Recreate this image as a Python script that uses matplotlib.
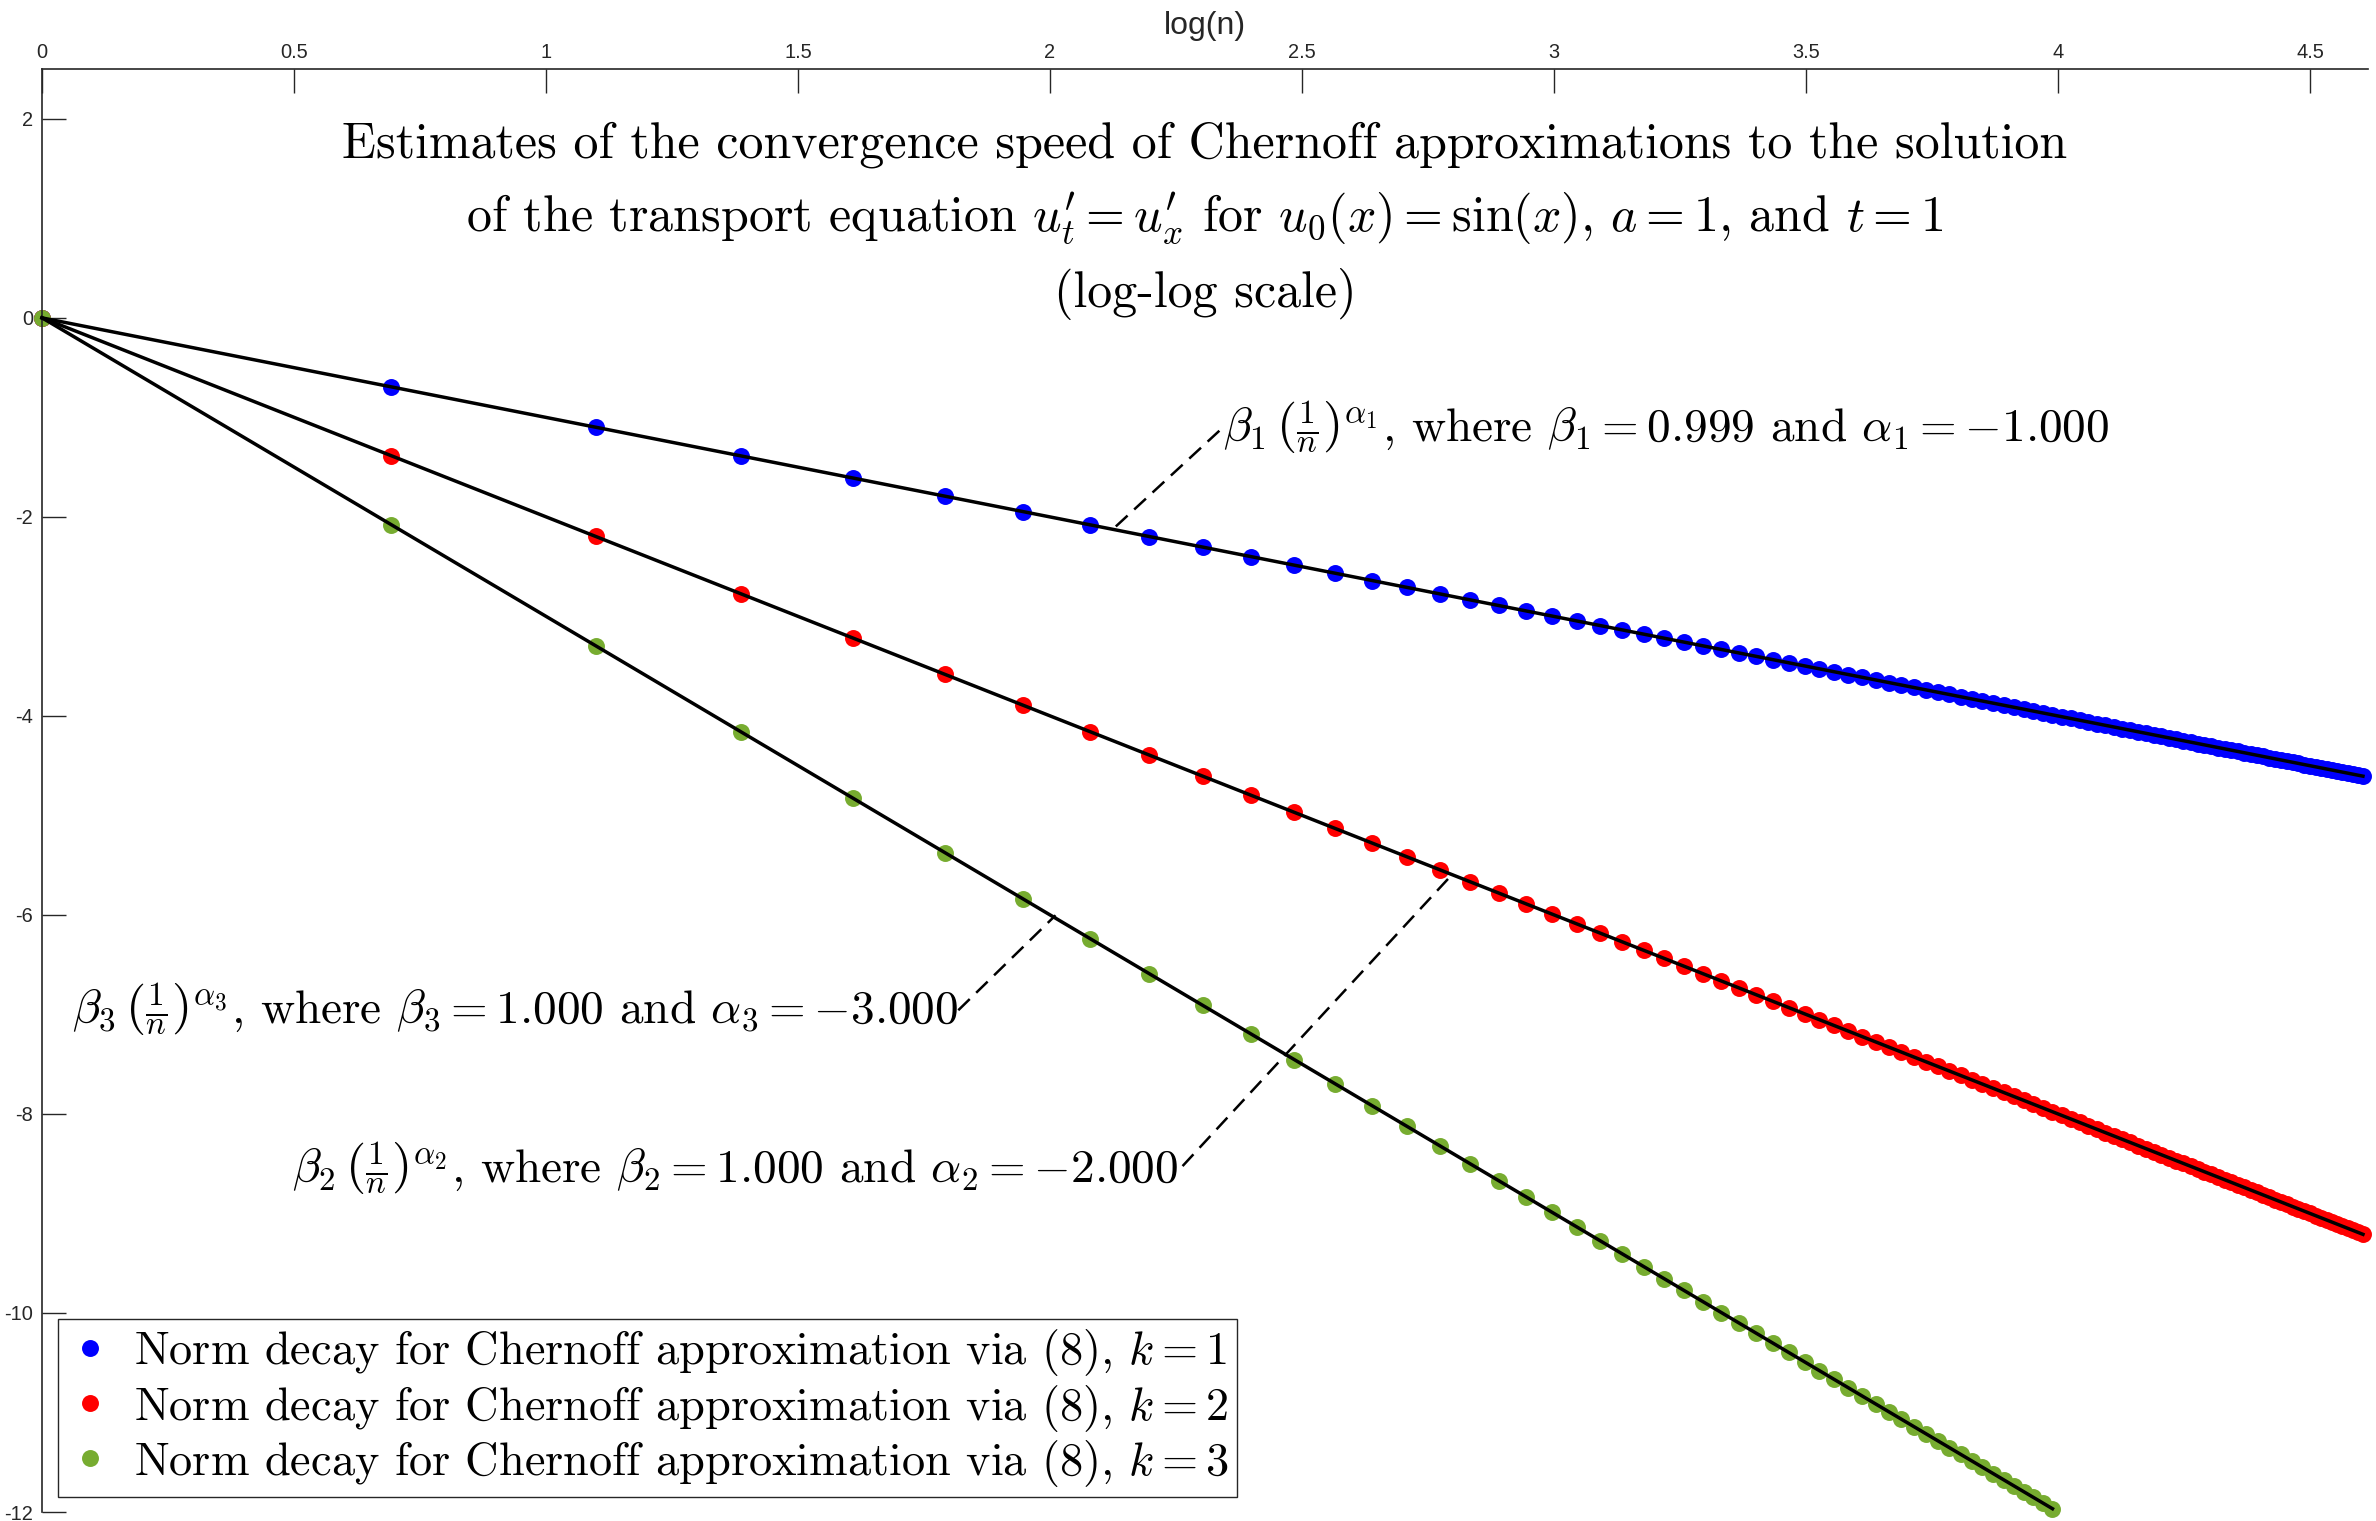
import matplotlib
matplotlib.use("Agg")
import matplotlib.pyplot as plt
import numpy as np

# ---------------- data ----------------
LOG_N = [0.000, 0.693, 1.099, 1.386, 1.609, 1.792, 1.946, 2.079, 2.197, 2.303,
         2.398, 2.485, 2.565, 2.639, 2.708, 2.773, 2.833, 2.890, 2.944, 2.996,
         3.045, 3.091, 3.135, 3.178, 3.219, 3.258, 3.296, 3.332, 3.367, 3.401,
         3.434, 3.466, 3.497, 3.526, 3.555, 3.584, 3.611, 3.638, 3.664, 3.689,
         3.714, 3.738, 3.761, 3.784, 3.807, 3.829, 3.850, 3.871, 3.892, 3.912,
         3.932, 3.951, 3.970, 3.989, 4.007, 4.025, 4.043, 4.060, 4.078, 4.094,
         4.111, 4.127, 4.143, 4.159, 4.174, 4.190, 4.205, 4.220, 4.234, 4.248,
         4.263, 4.277, 4.290, 4.304, 4.317, 4.331, 4.344, 4.357, 4.369, 4.382,
         4.394, 4.407, 4.419, 4.431, 4.443, 4.454, 4.466, 4.477, 4.489, 4.500,
         4.511, 4.522, 4.533, 4.543, 4.554, 4.564, 4.575, 4.585, 4.595, 4.605]

LOG_N_K3 = LOG_N[:54]

LOG_ERR_K1 = [-0.001, -0.694, -1.100, -1.387, -1.610, -1.793, -1.947, -2.080, -2.198, -2.304,
              -2.399, -2.486, -2.566, -2.640, -2.709, -2.774, -2.834, -2.891, -2.945, -2.997,
              -3.046, -3.092, -3.136, -3.179, -3.220, -3.259, -3.297, -3.333, -3.368, -3.402,
              -3.435, -3.467, -3.498, -3.527, -3.556, -3.585, -3.612, -3.639, -3.665, -3.690,
              -3.715, -3.739, -3.762, -3.785, -3.808, -3.830, -3.851, -3.872, -3.893, -3.913,
              -3.933, -3.952, -3.971, -3.990, -4.008, -4.026, -4.044, -4.061, -4.079, -4.095,
              -4.112, -4.128, -4.144, -4.160, -4.175, -4.191, -4.206, -4.221, -4.235, -4.249,
              -4.264, -4.278, -4.291, -4.305, -4.318, -4.332, -4.345, -4.358, -4.370, -4.383,
              -4.395, -4.408, -4.420, -4.432, -4.444, -4.455, -4.467, -4.478, -4.490, -4.501,
              -4.512, -4.523, -4.534, -4.544, -4.555, -4.565, -4.576, -4.586, -4.596, -4.606]

LOG_ERR_K2 = [0.000, -1.386, -2.197, -2.773, -3.219, -3.584, -3.892, -4.159, -4.394, -4.605,
              -4.796, -4.970, -5.130, -5.278, -5.416, -5.545, -5.666, -5.781, -5.889, -5.991,
              -6.089, -6.182, -6.271, -6.356, -6.438, -6.516, -6.592, -6.664, -6.735, -6.802,
              -6.868, -6.931, -6.993, -7.053, -7.111, -7.167, -7.222, -7.276, -7.327, -7.378,
              -7.427, -7.475, -7.522, -7.568, -7.613, -7.657, -7.700, -7.742, -7.784, -7.824,
              -7.864, -7.902, -7.941, -7.978, -8.015, -8.051, -8.086, -8.121, -8.155, -8.189,
              -8.222, -8.254, -8.286, -8.318, -8.349, -8.379, -8.409, -8.439, -8.468, -8.497,
              -8.525, -8.553, -8.581, -8.608, -8.635, -8.661, -8.688, -8.713, -8.739, -8.764,
              -8.789, -8.813, -8.838, -8.862, -8.885, -8.909, -8.932, -8.955, -8.977, -9.000,
              -9.022, -9.043, -9.065, -9.086, -9.107, -9.128, -9.149, -9.170, -9.190, -9.210]

LOG_ERR_K3 = [0.000, -2.079, -3.296, -4.159, -4.828, -5.375, -5.838, -6.238, -6.592, -6.908,
              -7.194, -7.455, -7.695, -7.917, -8.124, -8.318, -8.500, -8.671, -8.833, -8.987,
              -9.134, -9.273, -9.406, -9.534, -9.657, -9.774, -9.888, -9.997, -10.102, -10.204,
              -10.302, -10.397, -10.490, -10.579, -10.666, -10.751, -10.833, -10.913, -10.991, -11.067,
              -11.141, -11.213, -11.284, -11.353, -11.420, -11.486, -11.550, -11.614, -11.676, -11.736,
              -11.796, -11.854, -11.911, -11.967]

SERIES_K = [1, 2, 3]
FIT_BETA = [0.999, 1.000, 1.000]
FIT_ALPHA = [-1.000, -2.000, -3.000]

X_TICKS = [0, 0.5, 1, 1.5, 2, 2.5, 3, 3.5, 4, 4.5]
X_TICK_LABELS = ["0", "0.5", "1", "1.5", "2", "2.5", "3", "3.5", "4", "4.5"]
Y_TICKS = [2, 0, -2, -4, -6, -8, -10, -12]
Y_TICK_LABELS = ["2", "0", "-2", "-4", "-6", "-8", "-10", "-12"]

TITLE_LINES = [
    "Estimates of the convergence speed of Chernoff approximations to the solution",
    r"of the transport equation $u_t^{\prime} = u_x^{\prime}$ for $u_0(x) = \sin(x)$, $a = 1$, and $t = 1$",
    "(log-log scale)",
]
X_LABEL = "log(n)"

# ---------------- style ----------------
plt.rcParams["mathtext.fontset"] = "cm"
plt.rcParams["axes.unicode_minus"] = False
SERIF = "cmr10"
SANS = "Liberation Sans"
AX_COLOR = "#262626"
COLORS = ["#0000FF", "#FF0000", "#77AC30"]

W, H, DPI = 2376, 1521, 200
fig = plt.figure(figsize=(W / DPI, H / DPI), dpi=DPI)
ax = fig.add_axes([42 / W, 9 / H, 2326 / W, 1443 / H])

xs = [LOG_N, LOG_N, LOG_N_K3]
ys = [LOG_ERR_K1, LOG_ERR_K2, LOG_ERR_K3]

handles = []
for i, k in enumerate(SERIES_K):
    h, = ax.plot(xs[i], ys[i], linestyle="none", marker="o", markersize=6.1,
                 markerfacecolor=COLORS[i], markeredgewidth=0, clip_on=False,
                 zorder=2,
                 label=rf"Norm decay for Chernoff approximation via (8), $k = {k}$")
    handles.append(h)

for i in range(3):
    x_end = xs[i][-1]
    xl = np.array([0.0, x_end])
    yl = np.log(FIT_BETA[i]) + FIT_ALPHA[i] * xl
    ax.plot(xl, yl, color="black", linewidth=1.25, zorder=3, clip_on=False)

ax.set_xlim(0, 4.615)
ax.set_ylim(-12, 2.5)

# axes appearance (MATLAB-like, x axis on top, box off)
ax.xaxis.tick_top()
ax.xaxis.set_label_position("top")
for s in ["right", "bottom"]:
    ax.spines[s].set_visible(False)
for s in ["left", "top"]:
    ax.spines[s].set_color(AX_COLOR)
    ax.spines[s].set_linewidth(0.6)

ax.set_xticks(X_TICKS)
ax.set_xticklabels(X_TICK_LABELS, fontfamily=SANS, fontsize=7.2, color=AX_COLOR)
ax.set_yticks(Y_TICKS)
ax.set_yticklabels(Y_TICK_LABELS, fontfamily=SANS, fontsize=7.2, color=AX_COLOR)
ax.tick_params(axis="x", direction="in", length=8.6, width=0.5, color=AX_COLOR, pad=2.7)
ax.tick_params(axis="y", direction="in", length=8.6, width=0.5, color=AX_COLOR, pad=3.2)
ax.set_xlabel(X_LABEL, fontfamily=SANS, fontsize=11.5, color=AX_COLOR, labelpad=3.0)

# title lines inside the axes
title_y = [0.939, 0.887, 0.835]
for line, yy in zip(TITLE_LINES, title_y):
    ax.text(0.5, yy, line, transform=ax.transAxes, ha="center", va="baseline",
            fontfamily=SERIF, fontsize=18, color="black")

# annotations with dashed leader lines
ann_texts = [
    rf"$\beta_1\,\left(\frac{{1}}{{n}}\right)^{{\alpha_1}}$, where $\beta_1 = {FIT_BETA[0]:.3f}$ and $\alpha_1 = {FIT_ALPHA[0]:.3f}$",
    rf"$\beta_2\,\left(\frac{{1}}{{n}}\right)^{{\alpha_2}}$, where $\beta_2 = {FIT_BETA[1]:.3f}$ and $\alpha_2 = {FIT_ALPHA[1]:.3f}$",
    rf"$\beta_3\,\left(\frac{{1}}{{n}}\right)^{{\alpha_3}}$, where $\beta_3 = {FIT_BETA[2]:.3f}$ and $\alpha_3 = {FIT_ALPHA[2]:.3f}$",
]
# (text anchor, ha, leader start, leader end)
ann_layout = [
    ((2.343, -1.25), "left", (2.336, -1.135), (2.126, -2.118)),
    ((2.255, -8.69), "right", (2.263, -8.524), (2.800, -5.582)),
    ((1.818, -7.10), "right", (1.818, -6.958), (2.011, -6.004)),
]
for txt, (pos, ha, p0, p1) in zip(ann_texts, ann_layout):
    ax.text(pos[0], pos[1], txt, ha=ha, va="baseline", fontfamily=SERIF,
            fontsize=17, color="black")
    ax.plot([p0[0], p1[0]], [p0[1], p1[1]], color="black", linewidth=0.9,
            linestyle=(0, (6.4, 3.6)), zorder=4)

leg = ax.legend(handles=handles, loc="upper left",
                bbox_to_anchor=(58 / W, 1 - 1319 / H), bbox_transform=fig.transFigure,
                prop={"family": SERIF, "size": 16.7}, frameon=True, fancybox=False,
                borderaxespad=0, borderpad=0.18, handlelength=1.0, handletextpad=0.45,
                labelspacing=0.09, numpoints=1)
leg.get_frame().set_edgecolor(AX_COLOR)
leg.get_frame().set_linewidth(0.5)
leg.get_frame().set_alpha(1)

fig.savefig("out.png", dpi=DPI)
